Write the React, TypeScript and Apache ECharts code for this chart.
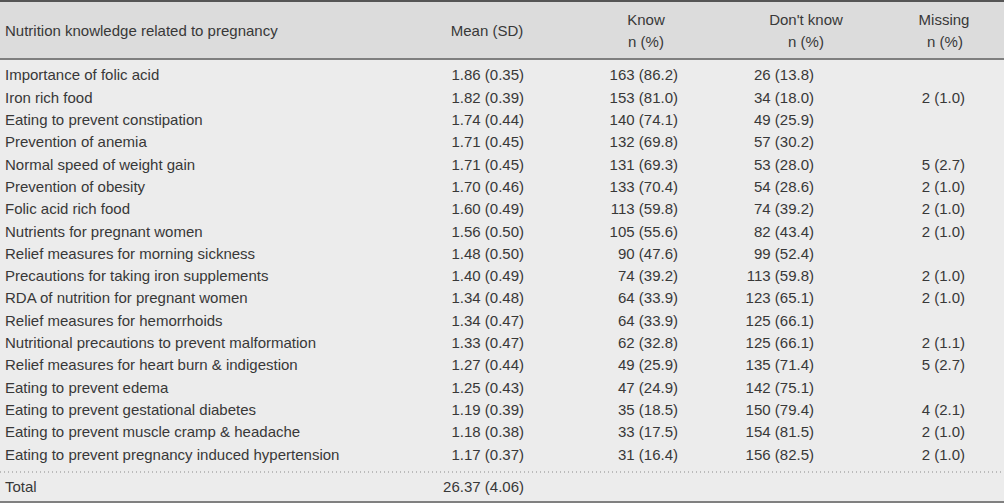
import React, { useEffect, useRef } from "react";
import * as echarts from "echarts";

const items = [
  "Importance of folic acid",
  "Iron rich food",
  "Eating to prevent constipation",
  "Prevention of anemia",
  "Normal speed of weight gain",
  "Prevention of obesity",
  "Folic acid rich food",
  "Nutrients for pregnant women",
  "Relief measures for morning sickness",
  "Precautions for taking iron supplements",
  "RDA of nutrition for pregnant women",
  "Relief measures for hemorrhoids",
  "Nutritional precautions to prevent malformation",
  "Relief measures for heart burn & indigestion",
  "Eating to prevent edema",
  "Eating to prevent gestational diabetes",
  "Eating to prevent muscle cramp & headache",
  "Eating to prevent pregnancy induced hypertension",
];
const means = [1.86, 1.82, 1.74, 1.71, 1.71, 1.70, 1.60, 1.56, 1.48, 1.40, 1.34, 1.34, 1.33, 1.27, 1.25, 1.19, 1.18, 1.17];
const sds = [0.35, 0.39, 0.44, 0.45, 0.45, 0.46, 0.49, 0.50, 0.50, 0.49, 0.48, 0.47, 0.47, 0.44, 0.43, 0.39, 0.38, 0.37];
const knowN = [163, 153, 140, 132, 131, 133, 113, 105, 90, 74, 64, 64, 62, 49, 47, 35, 33, 31];
const knowPct = [86.2, 81.0, 74.1, 69.8, 69.3, 70.4, 59.8, 55.6, 47.6, 39.2, 33.9, 33.9, 32.8, 25.9, 24.9, 18.5, 17.5, 16.4];
const dkN = [26, 34, 49, 57, 53, 54, 74, 82, 99, 113, 123, 125, 125, 135, 142, 150, 154, 156];
const dkPct = [13.8, 18.0, 25.9, 30.2, 28.0, 28.6, 39.2, 43.4, 52.4, 59.8, 65.1, 66.1, 66.1, 71.4, 75.1, 79.4, 81.5, 82.5];
const missN = [null, 2, null, null, 5, 2, 2, 2, null, 2, 2, null, 2, 5, null, 4, 2, 2];
const missPct = [null, 1.0, null, null, 2.7, 1.0, 1.0, 1.0, null, 1.0, 1.0, null, 1.1, 2.7, null, 2.1, 1.0, 1.0];
const totalLabel = "Total";
const totalMean = 26.37;
const totalSd = 4.06;
const headers = ["Nutrition knowledge related to pregnancy", "Mean (SD)", "Know", "Don't know", "Missing"];
const subHeader = "n (%)";

const FONT = '15px "Liberation Sans", Arial, sans-serif';
const COLOR = "#383838";

export default function App() {
  const ref = useRef<HTMLDivElement>(null);
  useEffect(() => {
    document.body.style.margin = "0";
    const chart = echarts.init(ref.current!, undefined, { renderer: "svg" });
    const rowIdx = items.map((_, i) => i);
    const txt = (text: string, x: number, y: number, align: string) => ({
      type: "text",
      style: { text, x, y, align, verticalAlign: "middle", font: FONT, fill: COLOR },
    });
    chart.setOption({
      animation: false,
      backgroundColor: "#ececec",
      grid: { left: 0, right: 0, top: 63.85, bottom: 37.85 },
      xAxis: { type: "value", min: 0, max: 1004, show: false },
      yAxis: { type: "category", data: rowIdx.map(String), inverse: true, show: false },
      graphic: [
        { type: "rect", shape: { x: 0, y: 0, width: 1004, height: 58 }, style: { fill: "#dcdcdc" }, z: -1 },
        { type: "line", shape: { x1: 0, y1: 1, x2: 1004, y2: 1 }, style: { stroke: "#555555", lineWidth: 2 } },
        { type: "line", shape: { x1: 0, y1: 59, x2: 1004, y2: 59 }, style: { stroke: "#7f7f7f", lineWidth: 2 } },
        { type: "line", shape: { x1: 0, y1: 472, x2: 1004, y2: 472 }, style: { stroke: "#8a8a8a", lineWidth: 1, lineDash: [1, 3] } },
        { type: "line", shape: { x1: 0, y1: 502, x2: 1004, y2: 502 }, style: { stroke: "#808080", lineWidth: 2 } },
        txt(headers[0], 5, 30, "left"),
        txt(headers[1], 487, 30, "center"),
        txt(headers[2], 646, 19, "center"),
        txt(subHeader, 646, 41, "center"),
        txt(headers[3], 806, 19, "center"),
        txt(subHeader, 806, 41, "center"),
        txt(headers[4], 944, 19, "center"),
        txt(subHeader, 945, 41, "center"),
        txt(totalLabel, 5, 486, "left"),
        txt(`${totalMean.toFixed(2)} (${totalSd.toFixed(2)})`, 524, 486, "right"),
      ],
      series: [
        {
          type: "custom",
          data: rowIdx.map((i) => [0, i]),
          encode: { x: 0, y: 1 },
          renderItem: (params: any, api: any) => {
            const i = params.dataIndex;
            const y = api.coord([0, i])[1];
            const cx = (v: number) => api.coord([v, i])[0];
            const children: any[] = [
              txt(items[i], cx(5), y, "left"),
              txt(`${means[i].toFixed(2)} (${sds[i].toFixed(2)})`, cx(524), y, "right"),
              txt(`${knowN[i]} (${knowPct[i].toFixed(1)})`, cx(678), y, "right"),
              txt(`${dkN[i]} (${dkPct[i].toFixed(1)})`, cx(814), y, "right"),
            ];
            if (missN[i] != null) {
              children.push(txt(`${missN[i]} (${(missPct[i] as number).toFixed(1)})`, cx(965), y, "right"));
            }
            return { type: "group", children };
          },
        },
      ],
    });
    return () => chart.dispose();
  }, []);
  return <div ref={ref} style={{ width: 1004, height: 503 }} />;
}
